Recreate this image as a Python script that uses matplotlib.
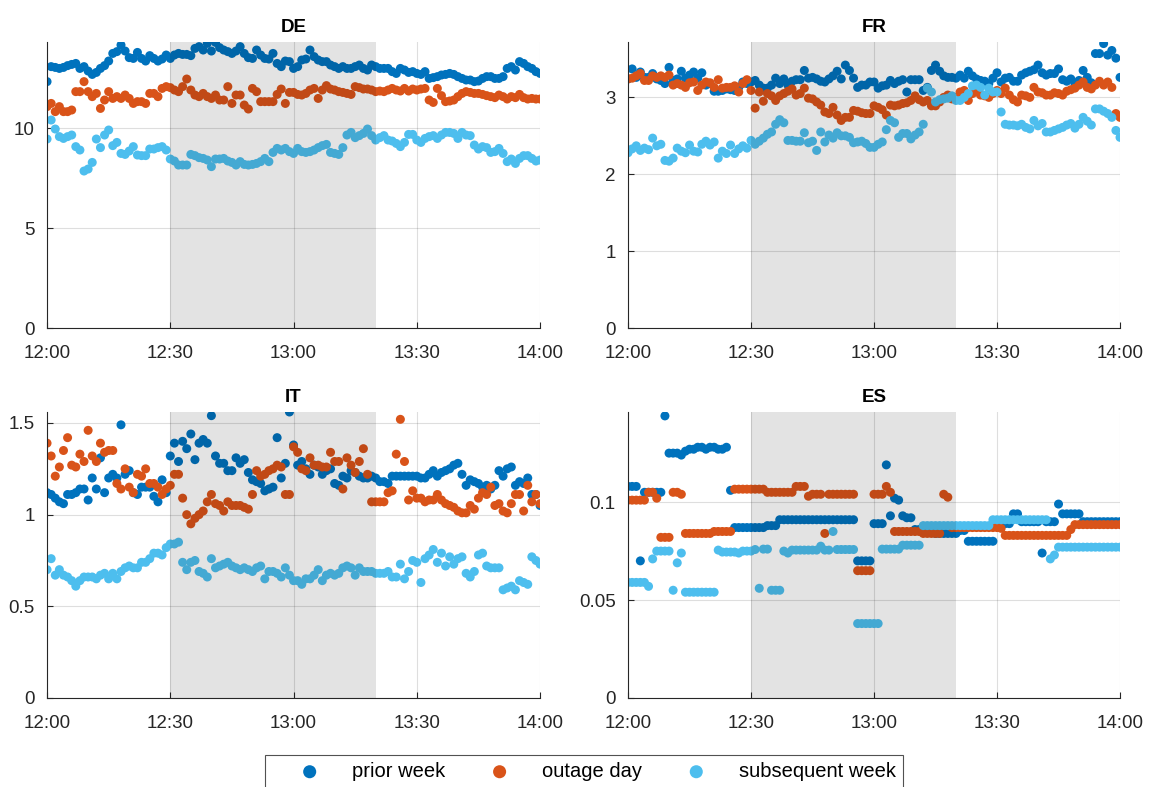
import numpy as np
import matplotlib
matplotlib.use('Agg')
import matplotlib.pyplot as plt

plt.rcParams['font.family'] = ['Liberation Sans', 'DejaVu Sans']

minutes = np.arange(121)  # 12:00 .. 14:00, one sample per minute
tick_minutes = [0, 30, 60, 90, 120]
tick_labels = ['12:00', '12:30', '13:00', '13:30', '14:00']
outage_start, outage_end = 30, 80  # 12:30 .. 13:20

de_prior = [12.32, 13.07, 13.03, 12.98, 13.03, 13.12, 13.18, 13.23, 12.98, 13.07,
            12.85, 12.68, 12.78, 12.98, 13.12, 13.35, 13.73, 13.82, 14.15, 13.85,
            13.52, 13.48, 13.78, 13.48, 13.35, 13.62, 13.48, 13.35, 13.45, 13.65,
            13.48, 13.65, 13.73, 13.68, 13.68, 13.62, 13.98, 14.07, 13.9, 14.23,
            13.85, 14.28, 14.02, 13.9, 13.82, 13.73, 13.85, 14.07, 13.73, 13.52,
            13.48, 13.9, 13.65, 13.48, 13.45, 13.73, 13.23, 13.07, 13.35, 13.32,
            12.98, 13.07, 13.4, 13.45, 13.9, 13.57, 13.4, 13.32, 13.32, 13.15,
            13.07, 12.98, 13.07, 12.98, 12.98, 13.07, 13.15, 12.98, 12.9, 13.15,
            13.07, 12.98, 12.98, 12.98, 12.82, 12.73, 12.98, 12.9, 12.78, 12.82,
            12.73, 12.68, 12.82, 12.48, 12.52, 12.57, 12.65, 12.68, 12.73, 12.68,
            12.57, 12.48, 12.4, 12.4, 12.32, 12.35, 12.48, 12.57, 12.57, 12.48,
            12.48, 12.57, 12.98, 13.07, 12.9, 13.32, 13.23, 13.07, 12.98, 12.82,
            12.73]
de_outage = [11.07, 11.23, 10.82, 11.07, 10.82, 10.82, 10.9, 11.82, 11.82, 12.32,
             11.82, 11.57, 11.73, 10.98, 11.4, 11.82, 11.48, 11.57, 11.48, 11.65,
             11.48, 11.23, 11.32, 11.32, 11.23, 11.73, 11.73, 11.57, 11.98, 12.07,
             12.02, 11.9, 11.82, 12.07, 12.45, 11.9, 11.65, 11.57, 11.73, 11.57,
             11.48, 11.65, 11.4, 11.4, 12.07, 11.23, 11.65, 11.65, 11.15, 10.95,
             11.98, 11.82, 11.32, 11.32, 11.32, 11.32, 11.68, 11.95, 11.23, 11.78,
             11.78, 11.68, 11.65, 11.73, 11.9, 11.98, 11.48, 11.9, 12.12, 11.95,
             11.9, 11.82, 11.78, 11.73, 11.68, 12.07, 12.02, 11.95, 11.95, 11.9,
             11.82, 11.85, 11.82, 11.9, 11.98, 11.9, 11.85, 11.98, 11.85, 11.95,
             11.9, 11.95, 11.98, 11.4, 11.28, 11.98, 11.62, 11.32, 11.35, 11.4,
             11.57, 11.73, 11.82, 11.78, 11.73, 11.73, 11.68, 11.62, 11.57, 11.52,
             11.65, 11.57, 11.45, 11.57, 11.52, 11.68, 11.52, 11.45, 11.48, 11.45,
             11.45]
de_subseq = [9.45, 10.4, 9.95, 9.57, 9.48, 9.57, 9.65, 9.07, 8.9, 7.85,
             7.95, 8.28, 9.45, 9.02, 9.65, 9.9, 9.12, 9.28, 8.73, 8.68,
             8.85, 9.07, 8.65, 8.62, 8.62, 8.95, 8.95, 9.02, 9.07, 8.9,
             8.45, 8.35, 8.15, 8.15, 8.15, 8.68, 8.62, 8.52, 8.48, 8.4,
             8.07, 8.45, 8.45, 8.48, 8.35, 8.28, 8.15, 8.32, 8.18, 8.15,
             8.18, 8.23, 8.32, 8.48, 8.32, 8.78, 8.98, 8.9, 8.98, 8.82,
             8.73, 8.98, 8.82, 8.78, 8.82, 8.9, 9.02, 9.12, 9.18, 8.78,
             8.73, 8.68, 9.02, 9.65, 9.78, 9.52, 9.62, 9.73, 9.95, 9.62,
             9.4, 9.52, 9.62, 9.4, 9.35, 9.23, 9.07, 9.28, 9.68, 9.68,
             9.4, 9.28, 9.48, 9.57, 9.62, 9.48, 9.65, 9.78, 9.78, 9.73,
             9.48, 9.78, 9.65, 9.62, 9.15, 8.95, 9.07, 9.02, 8.78, 8.82,
             8.98, 8.73, 8.32, 8.45, 8.23, 8.48, 8.62, 8.62, 8.48, 8.35,
             8.4]

fr_prior = [3.24, 3.37, 3.26, 3.33, 3.26, 3.26, 3.31, 3.24, 3.22, 3.18,
            3.39, 3.22, 3.24, 3.34, 3.25, 3.29, 3.33, 3.25, 3.32, 3.16,
            3.18, 3.08, 3.08, 3.09, 3.11, 3.1, 3.09, 3.13, 3.2, 3.18,
            3.2, 3.22, 3.16, 3.12, 3.12, 3.16, 3.25, 3.18, 3.24, 3.16,
            3.21, 3.23, 3.23, 3.35, 3.25, 3.26, 3.24, 3.21, 3.2, 3.24,
            3.28, 3.34, 3.24, 3.42, 3.35, 3.25, 3.13, 3.16, 3.16, 3.2,
            3.2, 3.12, 3.15, 3.16, 3.22, 3.18, 3.21, 3.23, 3.07, 3.23,
            3.23, 3.23, 3.09, 3.13, 3.35, 3.42, 3.34, 3.28, 3.26, 3.26,
            3.25, 3.29, 3.25, 3.34, 3.28, 3.24, 3.22, 3.21, 3.18, 3.25,
            3.32, 3.2, 3.25, 3.26, 3.21, 3.21, 3.29, 3.32, 3.34, 3.36,
            3.42, 3.32, 3.29, 3.31, 3.31, 3.37, 3.23, 3.21, 3.24, 3.18,
            3.22, 3.35, 3.26, 3.19, 3.57, 3.57, 3.7, 3.55, 3.61, 3.51,
            3.26]
fr_outage = [3.24, 3.25, 3.28, 3.31, 3.22, 3.22, 3.28, 3.26, 3.28, 3.26,
             3.29, 3.16, 3.18, 3.16, 3.13, 3.19, 3.2, 3.09, 3.16, 3.2,
             3.19, 3.13, 3.23, 3.12, 3.13, 3.13, 3.15, 3.07, 3.18, 3.23,
             3.09, 2.86, 3.07, 2.95, 3.05, 3.02, 2.96, 3.02, 3.05, 3.08,
             3.11, 3.03, 3.05, 3.12, 2.99, 2.98, 2.94, 2.9, 2.81, 2.79,
             2.87, 2.77, 2.7, 2.74, 2.74, 2.83, 2.82, 2.8, 2.79, 2.79,
             2.89, 2.87, 2.84, 2.77, 2.9, 2.89, 2.9, 2.92, 2.93, 2.96,
             3.02, 2.97, 2.94, 2.96, 2.89, 2.89, 2.94, 3.0, 3.03, 2.98,
             3.0, 3.07, 3.09, 2.96, 3.05, 3.07, 3.03, 3.02, 3.0, 3.05,
             3.09, 3.05, 3.12, 3.03, 2.97, 2.94, 3.03, 3.02, 3.0, 3.13,
             3.07, 3.06, 3.03, 3.03, 3.06, 3.05, 3.03, 3.08, 3.1, 3.12,
             3.16, 3.2, 3.13, 3.11, 3.16, 3.21, 3.16, 3.2, 3.13, 2.79,
             2.74]
fr_subseq = [2.28, 2.33, 2.37, 2.31, 2.34, 2.32, 2.47, 2.37, 2.39, 2.18,
             2.17, 2.21, 2.34, 2.3, 2.28, 2.38, 2.3, 2.29, 2.39, 2.43,
             2.38, 2.42, 2.21, 2.3, 2.27, 2.38, 2.27, 2.33, 2.37, 2.34,
             2.44, 2.39, 2.43, 2.47, 2.52, 2.55, 2.65, 2.71, 2.67, 2.44,
             2.44, 2.43, 2.43, 2.54, 2.41, 2.43, 2.31, 2.55, 2.42, 2.51,
             2.47, 2.54, 2.5, 2.5, 2.48, 2.41, 2.42, 2.43, 2.4, 2.35,
             2.35, 2.39, 2.42, 2.58, 2.7, 2.67, 2.48, 2.53, 2.53, 2.46,
             2.51, 2.55, 2.65, 3.12, 3.07, 2.94, 2.97, 2.98, 2.99, 3.02,
             2.96, 2.96, 3.0, 3.05, 3.15, 3.16, 3.13, 3.03, 3.12, 3.07,
             3.07, 2.81, 2.65, 2.64, 2.64, 2.63, 2.65, 2.61, 2.59, 2.7,
             2.63, 2.66, 2.55, 2.55, 2.57, 2.59, 2.61, 2.64, 2.66, 2.6,
             2.65, 2.74, 2.69, 2.64, 2.85, 2.85, 2.82, 2.79, 2.74, 2.57,
             2.48]

it_prior = [1.12, 1.11, 1.09, 1.07, 1.06, 1.11, 1.11, 1.12, 1.14, 1.14,
            1.08, 1.2, 1.14, 1.31, 1.12, 1.2, 1.22, 1.2, 1.49, 1.22,
            1.24, 1.12, 1.11, 1.15, 1.15, 1.15, 1.1, 1.07, 1.19, 1.12,
            1.32, 1.39, 1.29, 1.4, 1.36, 1.44, 1.3, 1.39, 1.41, 1.39,
            1.54, 1.32, 1.28, 1.28, 1.24, 1.24, 1.31, 1.28, 1.3, 1.23,
            1.19, 1.18, 1.17, 1.13, 1.14, 1.15, 1.42, 1.2, 1.28, 1.56,
            1.38, 1.27, 1.29, 1.25, 1.22, 1.27, 1.26, 1.22, 1.24, 1.25,
            1.17, 1.16, 1.21, 1.2, 1.24, 1.23, 1.21, 1.2, 1.2, 1.21,
            1.2, 1.18, 1.18, 1.17, 1.21, 1.21, 1.21, 1.21, 1.21, 1.21,
            1.21, 1.2, 1.2, 1.22, 1.24, 1.21, 1.23, 1.24, 1.25, 1.27,
            1.28, 1.22, 1.16, 1.19, 1.18, 1.17, 1.15, 1.16, 1.14, 1.16,
            1.24, 1.21, 1.25, 1.26, 1.16, 1.18, 1.17, 1.2, 1.11, 1.11,
            1.05]
it_outage = [1.39, 1.32, 1.21, 1.26, 1.35, 1.42, 1.27, 1.26, 1.33, 1.29,
             1.46, 1.32, 1.29, 1.39, 1.34, 1.35, 1.35, 1.17, 1.14, 1.25,
             1.15, 1.12, 1.22, 1.21, 1.25, 1.17, 1.17, 1.15, 1.11, 1.14,
             1.16, 1.22, 1.22, 1.09, 1.0, 0.95, 0.98, 1.0, 1.02, 1.07,
             1.11, 1.06, 1.05, 1.02, 1.07, 1.05, 1.05, 1.05, 1.04, 1.03,
             1.11, 1.24, 1.21, 1.22, 1.24, 1.25, 1.27, 1.26, 1.11, 1.11,
             1.37, 1.34, 1.25, 1.24, 1.31, 1.27, 1.27, 1.26, 1.26, 1.34,
             1.29, 1.29, 1.14, 1.31, 1.27, 1.23, 1.29, 1.36, 1.22, 1.07,
             1.07, 1.07, 1.07, 1.12, 1.13, 1.33, 1.52, 1.29, 1.08, 1.13,
             1.09, 1.09, 1.07, 1.08, 1.08, 1.11, 1.08, 1.06, 1.05, 1.04,
             1.02, 1.01, 1.01, 1.05, 1.03, 1.09, 1.12, 1.11, 1.15, 1.05,
             1.06, 1.02, 1.01, 1.06, 1.11, 1.11, 1.02, 1.16, 1.07, 1.11,
             1.06]
it_subseq = [0.7, 0.76, 0.67, 0.7, 0.67, 0.66, 0.64, 0.61, 0.64, 0.66,
             0.66, 0.66, 0.65, 0.67, 0.68, 0.65, 0.68, 0.65, 0.69, 0.71,
             0.72, 0.71, 0.71, 0.74, 0.74, 0.76, 0.79, 0.79, 0.78, 0.82,
             0.84, 0.84, 0.85, 0.74, 0.7, 0.74, 0.75, 0.69, 0.68, 0.66,
             0.76, 0.71, 0.72, 0.73, 0.74, 0.72, 0.71, 0.7, 0.71, 0.7,
             0.69, 0.71, 0.72, 0.65, 0.69, 0.69, 0.68, 0.66, 0.71, 0.67,
             0.64, 0.64, 0.62, 0.65, 0.65, 0.67, 0.7, 0.64, 0.67, 0.68,
             0.67, 0.68, 0.71, 0.72, 0.71, 0.67, 0.71, 0.69, 0.69, 0.69,
             0.68, 0.68, 0.68, 0.69, 0.66, 0.66, 0.73, 0.65, 0.69, 0.75,
             0.74, 0.63, 0.76, 0.78, 0.81, 0.74, 0.79, 0.72, 0.77, 0.73,
             0.76, 0.77, 0.68, 0.66, 0.69, 0.78, 0.79, 0.72, 0.71, 0.71,
             0.71, 0.59, 0.6, 0.61, 0.59, 0.64, 0.63, 0.62, 0.77, 0.75,
             0.73]

es_prior = [0.108, 0.108, 0.108, 0.070, 0.105, 0.105, 0.105, 0.105, 0.105, 0.144,
            0.125, 0.125, 0.125, 0.124, 0.126, 0.127, 0.127, 0.128, 0.128, 0.127,
            0.128, 0.128, 0.127, 0.127, 0.128, 0.106, 0.087, 0.087, 0.087, 0.087,
            0.087, 0.087, 0.087, 0.087, 0.088, 0.088, 0.088, 0.091, 0.091, 0.091,
            0.091, 0.091, 0.091, 0.091, 0.091, 0.091, 0.091, 0.091, 0.091, 0.091,
            0.091, 0.091, 0.091, 0.091, 0.091, 0.091, 0.070, 0.070, 0.070, 0.070,
            0.089, 0.089, 0.089, 0.119, 0.093, 0.102, 0.101, 0.093, 0.092, 0.092,
            0.086, 0.086, 0.085, 0.085, 0.085, 0.084, 0.084, 0.084, 0.084, 0.084,
            0.084, 0.0855, 0.0855, 0.080, 0.080, 0.080, 0.080, 0.080, 0.080, 0.080,
            0.089, 0.089, 0.089, 0.089, 0.094, 0.094, 0.090, 0.090, 0.090, 0.090,
            0.090, 0.074, 0.090, 0.090, 0.090, 0.099, 0.094, 0.094, 0.094, 0.094,
            0.094, 0.090, 0.090, 0.090, 0.090, 0.090, 0.090, 0.090, 0.090, 0.090,
            0.090]
es_outage = [0.101, 0.101, 0.101, 0.101, 0.101, 0.105, 0.105, 0.102, 0.082, 0.082,
             0.082, 0.105, 0.105, 0.104, 0.084, 0.084, 0.084, 0.084, 0.084, 0.084,
             0.084, 0.085, 0.085, 0.085, 0.085, 0.085, 0.1066, 0.1066, 0.1066, 0.1066,
             0.1066, 0.1066, 0.1066, 0.1066, 0.105, 0.105, 0.105, 0.105, 0.105, 0.105,
             0.105, 0.108, 0.108, 0.108, 0.103, 0.104, 0.104, 0.104, 0.084, 0.104,
             0.104, 0.104, 0.104, 0.104, 0.104, 0.104, 0.065, 0.065, 0.065, 0.065,
             0.104, 0.104, 0.104, 0.108, 0.105, 0.085, 0.085, 0.085, 0.085, 0.085,
             0.085, 0.085, 0.084, 0.084, 0.084, 0.084, 0.084, 0.104, 0.1025, 0.087,
             0.087, 0.087, 0.087, 0.087, 0.087, 0.087, 0.087, 0.087, 0.087, 0.087,
             0.087, 0.0866, 0.083, 0.083, 0.083, 0.083, 0.083, 0.083, 0.083, 0.083,
             0.083, 0.083, 0.083, 0.083, 0.083, 0.083, 0.083, 0.083, 0.086, 0.0885,
             0.0885, 0.0885, 0.0885, 0.0885, 0.0885, 0.0885, 0.0885, 0.0885, 0.0885, 0.0885,
             0.0885]
es_subseq = [0.059, 0.059, 0.059, 0.059, 0.059, 0.057, 0.071, 0.075, 0.075, 0.075,
             0.075, 0.055, 0.069, 0.074, 0.054, 0.054, 0.054, 0.054, 0.054, 0.054,
             0.054, 0.054, 0.0755, 0.0745, 0.0745, 0.0745, 0.0745, 0.074, 0.075, 0.075,
             0.075, 0.0758, 0.056, 0.076, 0.076, 0.055, 0.055, 0.055, 0.075, 0.074,
             0.0755, 0.0755, 0.0755, 0.0755, 0.0755, 0.0755, 0.0755, 0.0775, 0.0755, 0.0755,
             0.085, 0.0758, 0.0758, 0.0758, 0.0758, 0.0758, 0.038, 0.038, 0.038, 0.038,
             0.038, 0.038, 0.076, 0.076, 0.076, 0.076, 0.076, 0.078, 0.078, 0.078,
             0.078, 0.078, 0.088, 0.088, 0.088, 0.088, 0.088, 0.088, 0.088, 0.088,
             0.088, 0.088, 0.088, 0.088, 0.088, 0.088, 0.088, 0.088, 0.088, 0.091,
             0.091, 0.091, 0.091, 0.091, 0.091, 0.091, 0.091, 0.091, 0.091, 0.091,
             0.091, 0.091, 0.091, 0.071, 0.073, 0.077, 0.077, 0.077, 0.077, 0.077,
             0.077, 0.077, 0.077, 0.077, 0.077, 0.077, 0.077, 0.077, 0.077, 0.077,
             0.077]

countries = ['DE', 'FR', 'IT', 'ES']
series = {
    'DE': (de_prior, de_outage, de_subseq),
    'FR': (fr_prior, fr_outage, fr_subseq),
    'IT': (it_prior, it_outage, it_subseq),
    'ES': (es_prior, es_outage, es_subseq),
}
yticks = {'DE': [0, 5, 10], 'FR': [0, 1, 2, 3], 'IT': [0, 0.5, 1, 1.5], 'ES': [0, 0.05, 0.1]}
ytop = {'DE': 14.3, 'FR': 3.72, 'IT': 1.56, 'ES': 0.146}

labels = ['prior week', 'outage day', 'subsequent week']
colors = ['#0072BD', '#D95319', '#4DBEEE']

fig = plt.figure(figsize=(11.53, 7.87), dpi=100)
boxes = {'DE': [0.0408, 0.5832, 0.4276, 0.3634],
         'FR': [0.5447, 0.5832, 0.4267, 0.3634],
         'IT': [0.0408, 0.1131, 0.4276, 0.3634],
         'ES': [0.5447, 0.1131, 0.4267, 0.3634]}

handles = []
for c in countries:
    ax = fig.add_axes(boxes[c])
    for vals, col, lab in zip(series[c], colors, labels):
        h = ax.scatter(minutes, vals, s=42, color=col, edgecolors='none', label=lab, zorder=2)
        if c == 'DE':
            handles.append(h)
    # outage window, drawn over the dots like the original
    ax.axvspan(outage_start, outage_end, color='k', alpha=0.11, lw=0, zorder=3)
    ax.set_xlim(0, 120)
    ax.set_ylim(0, ytop[c])
    ax.set_xticks(tick_minutes)
    ax.set_xticklabels(tick_labels)
    ax.set_yticks(yticks[c])
    ax.set_yticklabels([('%g' % t) for t in yticks[c]])
    ax.grid(True, color='#262626', alpha=0.15, lw=0.8, zorder=0)
    ax.set_axisbelow(True)
    for s in ['top', 'right']:
        ax.spines[s].set_visible(False)
    for s in ['left', 'bottom']:
        ax.spines[s].set_color('#262626')
        ax.spines[s].set_linewidth(0.8)
    ax.tick_params(direction='in', length=4, width=0.8, colors='#262626',
                   labelsize=13.5, labelcolor='#262626')
    ax.tick_params(axis='x', pad=12)
    ax.tick_params(axis='y', pad=9)
    ax.set_title(c, fontsize=13.5, fontweight='bold', pad=7.5)

leg = fig.legend(handles, labels, loc='upper center', bbox_to_anchor=(0.5065, 0.0407),
                 borderaxespad=0, ncol=3, fontsize=14.5, frameon=True, fancybox=False,
                 edgecolor='#262626', markerscale=1.45, handlelength=3.7,
                 handletextpad=0.25, columnspacing=0.85, borderpad=0.35)
leg.get_frame().set_linewidth(0.8)

fig.savefig('out.png', dpi=100)
